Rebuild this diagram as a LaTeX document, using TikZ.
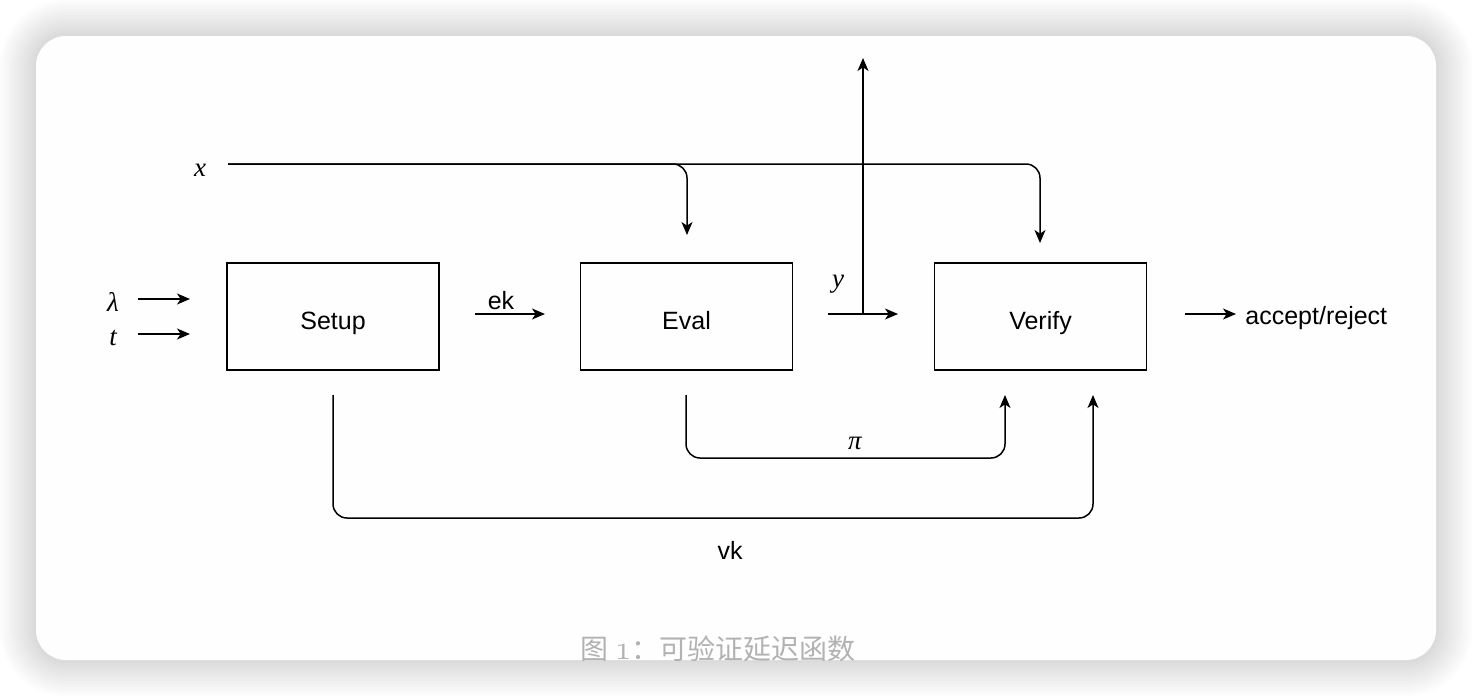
\documentclass[tikz,border=0pt]{standalone}
\usepackage{fontspec}
\setmainfont{Liberation Serif}
\newfontfamily\sansf{Liberation Sans}
\newfontfamily\cjk{Noto Sans CJK SC}
\usepackage{tikz}
\usetikzlibrary{positioning, arrows.meta}

\begin{document}
\begin{tikzpicture}[x=0.5pt,y=-0.5pt,line width=0.75pt,
  blk/.style={draw,minimum width=106pt,minimum height=53.5pt,text height=13pt,text depth=0.5pt,
    font=\sansf\fontsize{12.5}{14}\selectfont},
  arr/.style={-{Stealth[length=6.5pt,width=5.5pt,inset=1.8pt]}},
  var/.style={font=\itshape\fontsize{13.5}{15}\selectfont},
  lbl/.style={font=\sansf\fontsize{12.5}{14}\selectfont}]
\useasboundingbox (0,0) rectangle (1472,696);
\fill[white] (0,0) rectangle (1472,696);
% card with soft shadow
\foreach \i in {1,...,12}
  \fill[black,opacity=0.012,rounded corners=15pt+1.5pt*\i]
    (36-3*\i,36-3*\i) rectangle (1436+3*\i,660+3*\i);
\fill[white!99.5!black,rounded corners=15pt] (36,36) rectangle (1436,660);
\begin{scope}
  \clip[rounded corners=15pt] (36,36) rectangle (1436,660);
  \node[text=black!30,font=\cjk\fontsize{14}{16}\selectfont] (cap) at (718,649)
    {图 {\usefont{OML}{cmm}{m}{it}\fontsize{17}{18}\selectfont 1}：可验证延迟函数};
\end{scope}

% boxes
\node[blk] (setup) at (333,316.5) {Setup};
\node[blk] (eval) at (686.5,316.5) {Eval};
\node[blk] (verify) at (1040.5,316.5) {Verify};

% inputs
\node[var] (lam) at (113,302) {λ};
\node[var] (t) at (113,338) {t};
\node[var] (x) at (200,170) {x};
\coordinate (lamA) at (138,299);  \coordinate (lamB) at (190,299);
\coordinate (tA) at (138,334);    \coordinate (tB) at (190,334);
\draw[arr] (lamA) -- (lamB);
\draw[arr] (tA) -- (tB);
\coordinate (xA) at (228,164);
\coordinate (xEval) at (687,235);
\coordinate (xVer) at (1040,243);
\draw[arr,rounded corners=7pt] (xA) -| (xEval);
\draw[arr,rounded corners=7pt] (xA) -| (xVer);

% ek
\coordinate (ekA) at (475,314); \coordinate (ekB) at (545,314);
\draw[arr] (ekA) -- (ekB);
\node[lbl] (ek) at (501,301) {ek};

% y
\coordinate (yA) at (828,314); \coordinate (yB) at (898,314);
\coordinate (yJ) at (863,314); \coordinate (yUp) at (863,58);
\draw[arr] (yA) -- (yB);
\draw[arr] (yJ) -- (yUp);
\node[var] (y) at (838,284) {y};

% accept/reject
\coordinate (arA) at (1185,314); \coordinate (arB) at (1236,314);
\draw[arr] (arA) -- (arB);
\node[lbl,anchor=west] (ar) at (1238,318) {accept/reject};

% pi and vk
\coordinate (piA) at (686,395); \coordinate (piB) at (1005,395);
\draw[arr,rounded corners=7pt] (piA) |- (850,458) -| (piB);
\node[var] (pi) at (855,443) {π};
\coordinate (vkA) at (333,395); \coordinate (vkB) at (1093,395);
\draw[arr,rounded corners=7pt] (vkA) |- (700,518) -| (vkB);
\node[lbl] (vk) at (730,550) {vk};
\end{tikzpicture}
\end{document}
